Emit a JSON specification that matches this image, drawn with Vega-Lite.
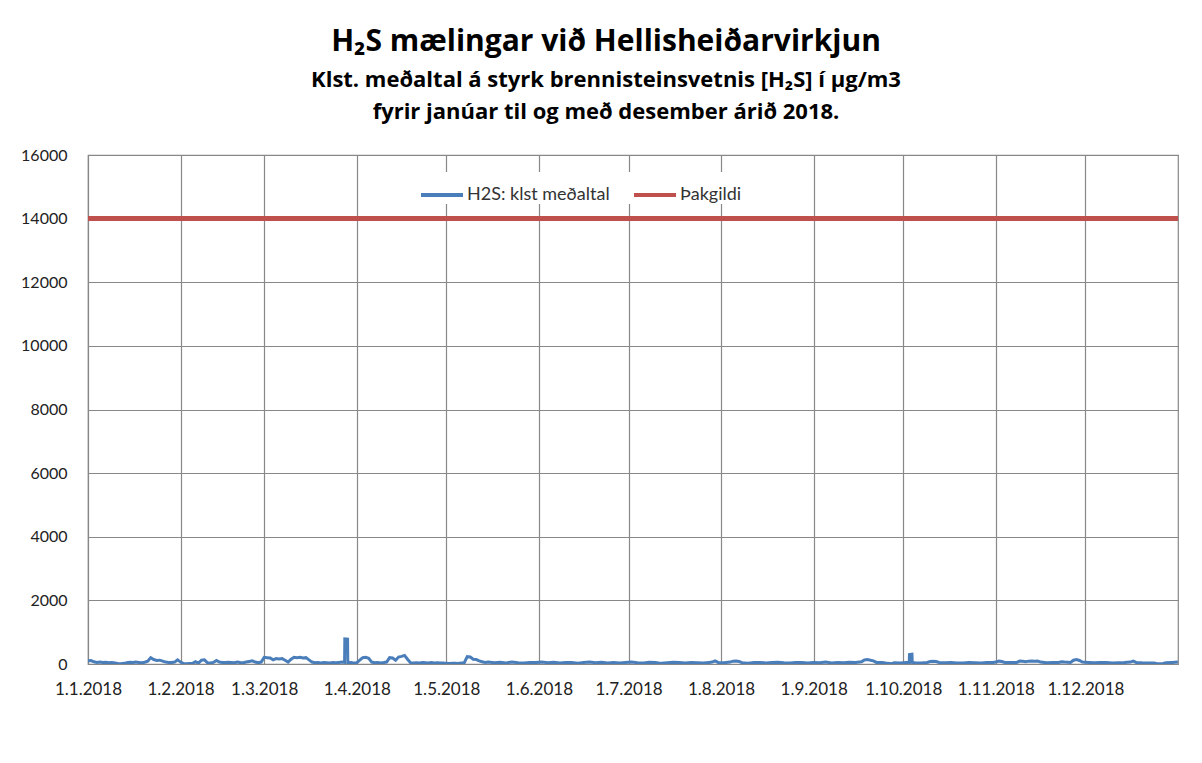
{
  "$schema": "https://vega.github.io/schema/vega-lite/v6.json",
  "width": 1090,
  "height": 509,
  "autosize": {"type": "none"},
  "padding": {"left": 88, "top": 155, "right": 24, "bottom": 99},
  "background": "white",
  "config": {
    "font": "Lato",
    "view": {"stroke": "#888888", "strokeWidth": 1.2},
    "axis": {"labelFont": "Lato", "labelColor": "#222222", "labelFontSize": 16, "gridColor": "#888888", "gridWidth": 1.2, "ticks": false, "domain": false, "title": null}
  },
  "title": {
    "text": "H₂S mælingar við Hellisheiðarvirkjun",
    "subtitle": ["Klst. meðaltal á styrk brennisteinsvetnis [H₂S] í µg/m3", "fyrir janúar til og með desember árið 2018."],
    "anchor": "middle",
    "frame": "group",
    "dx": -27,
    "offset": 24,
    "font": "Open Sans",
    "fontSize": 30,
    "fontWeight": "bold",
    "color": "#000000",
    "subtitleFont": "Open Sans",
    "subtitleFontSize": 22,
    "subtitleFontWeight": "bold",
    "subtitleColor": "#000000",
    "subtitlePadding": 13,
    "subtitleLineHeight": 32
  },
  "data": {"values": [
    {"d":"2018-01-01","v":100},{"d":"2018-01-02","v":110},{"d":"2018-01-03","v":70},{"d":"2018-01-04","v":50},{"d":"2018-01-05","v":60},{"d":"2018-01-06","v":45},{"d":"2018-01-07","v":55},{"d":"2018-01-08","v":40},{"d":"2018-01-09","v":50},{"d":"2018-01-10","v":35},{"d":"2018-01-11","v":15},{"d":"2018-01-12","v":10},{"d":"2018-01-13","v":20},{"d":"2018-01-14","v":40},{"d":"2018-01-15","v":55},{"d":"2018-01-16","v":45},{"d":"2018-01-17","v":60},{"d":"2018-01-18","v":50},{"d":"2018-01-19","v":40},{"d":"2018-01-20","v":55},{"d":"2018-01-21","v":90},{"d":"2018-01-22","v":200},{"d":"2018-01-23","v":140},{"d":"2018-01-24","v":110},{"d":"2018-01-25","v":120},{"d":"2018-01-26","v":90},{"d":"2018-01-27","v":60},{"d":"2018-01-28","v":50},{"d":"2018-01-29","v":45},{"d":"2018-01-30","v":60},{"d":"2018-01-31","v":130},
    {"d":"2018-02-01","v":60},{"d":"2018-02-02","v":10},{"d":"2018-02-03","v":5},{"d":"2018-02-04","v":15},{"d":"2018-02-05","v":20},{"d":"2018-02-06","v":70},{"d":"2018-02-07","v":30},{"d":"2018-02-08","v":120},{"d":"2018-02-09","v":130},{"d":"2018-02-10","v":40},{"d":"2018-02-11","v":30},{"d":"2018-02-12","v":50},{"d":"2018-02-13","v":110},{"d":"2018-02-14","v":60},{"d":"2018-02-15","v":50},{"d":"2018-02-16","v":45},{"d":"2018-02-17","v":55},{"d":"2018-02-18","v":50},{"d":"2018-02-19","v":40},{"d":"2018-02-20","v":60},{"d":"2018-02-21","v":45},{"d":"2018-02-22","v":40},{"d":"2018-02-23","v":60},{"d":"2018-02-24","v":80},{"d":"2018-02-25","v":100},{"d":"2018-02-26","v":60},{"d":"2018-02-27","v":40},{"d":"2018-02-28","v":60},
    {"d":"2018-03-01","v":210},{"d":"2018-03-02","v":200},{"d":"2018-03-03","v":190},{"d":"2018-03-04","v":130},{"d":"2018-03-05","v":170},{"d":"2018-03-06","v":160},{"d":"2018-03-07","v":170},{"d":"2018-03-08","v":120},{"d":"2018-03-09","v":60},{"d":"2018-03-10","v":150},{"d":"2018-03-11","v":210},{"d":"2018-03-12","v":200},{"d":"2018-03-13","v":210},{"d":"2018-03-14","v":190},{"d":"2018-03-15","v":200},{"d":"2018-03-16","v":130},{"d":"2018-03-17","v":60},{"d":"2018-03-18","v":40},{"d":"2018-03-19","v":50},{"d":"2018-03-20","v":35},{"d":"2018-03-21","v":45},{"d":"2018-03-22","v":40},{"d":"2018-03-23","v":30},{"d":"2018-03-24","v":45},{"d":"2018-03-25","v":40},{"d":"2018-03-26","v":50},{"d":"2018-03-27","v":60},{"d":"2018-03-27T22:00Z","v":50},{"d":"2018-03-28T00:00Z","v":790},{"d":"2018-03-28T22:00Z","v":780},{"d":"2018-03-29T00:00Z","v":40},{"d":"2018-03-30","v":45},{"d":"2018-03-31","v":35},
    {"d":"2018-04-01","v":40},{"d":"2018-04-02","v":120},{"d":"2018-04-03","v":200},{"d":"2018-04-04","v":210},{"d":"2018-04-05","v":180},{"d":"2018-04-06","v":60},{"d":"2018-04-07","v":40},{"d":"2018-04-08","v":50},{"d":"2018-04-09","v":35},{"d":"2018-04-10","v":45},{"d":"2018-04-11","v":60},{"d":"2018-04-12","v":200},{"d":"2018-04-13","v":190},{"d":"2018-04-14","v":120},{"d":"2018-04-15","v":220},{"d":"2018-04-16","v":240},{"d":"2018-04-17","v":270},{"d":"2018-04-18","v":150},{"d":"2018-04-19","v":40},{"d":"2018-04-20","v":35},{"d":"2018-04-21","v":40},{"d":"2018-04-22","v":30},{"d":"2018-04-23","v":45},{"d":"2018-04-24","v":40},{"d":"2018-04-25","v":30},{"d":"2018-04-26","v":50},{"d":"2018-04-27","v":35},{"d":"2018-04-28","v":40},{"d":"2018-04-29","v":30},{"d":"2018-04-30","v":35},
    {"d":"2018-05-01","v":20},{"d":"2018-05-02","v":15},{"d":"2018-05-03","v":25},{"d":"2018-05-04","v":20},{"d":"2018-05-05","v":15},{"d":"2018-05-06","v":30},{"d":"2018-05-07","v":40},{"d":"2018-05-08","v":230},{"d":"2018-05-09","v":220},{"d":"2018-05-10","v":150},{"d":"2018-05-11","v":140},{"d":"2018-05-12","v":100},{"d":"2018-05-13","v":70},{"d":"2018-05-14","v":50},{"d":"2018-05-15","v":60},{"d":"2018-05-17","v":40},{"d":"2018-05-19","v":55},{"d":"2018-05-21","v":35},{"d":"2018-05-23","v":60},{"d":"2018-05-25","v":40},{"d":"2018-05-27","v":30},{"d":"2018-05-29","v":50},{"d":"2018-05-31","v":45},
    {"d":"2018-06-02","v":60},{"d":"2018-06-04","v":40},{"d":"2018-06-06","v":55},{"d":"2018-06-08","v":35},{"d":"2018-06-10","v":50},{"d":"2018-06-12","v":45},{"d":"2018-06-14","v":25},{"d":"2018-06-16","v":50},{"d":"2018-06-18","v":60},{"d":"2018-06-20","v":40},{"d":"2018-06-22","v":55},{"d":"2018-06-24","v":35},{"d":"2018-06-26","v":45},{"d":"2018-06-28","v":30},{"d":"2018-06-30","v":50},
    {"d":"2018-07-02","v":60},{"d":"2018-07-04","v":40},{"d":"2018-07-06","v":30},{"d":"2018-07-08","v":55},{"d":"2018-07-10","v":45},{"d":"2018-07-12","v":20},{"d":"2018-07-14","v":40},{"d":"2018-07-16","v":55},{"d":"2018-07-18","v":45},{"d":"2018-07-20","v":35},{"d":"2018-07-22","v":50},{"d":"2018-07-24","v":40},{"d":"2018-07-26","v":30},{"d":"2018-07-28","v":50},{"d":"2018-07-29","v":60},{"d":"2018-07-30","v":100},{"d":"2018-07-31","v":50},
    {"d":"2018-08-02","v":40},{"d":"2018-08-04","v":60},{"d":"2018-08-05","v":90},{"d":"2018-08-06","v":95},{"d":"2018-08-07","v":80},{"d":"2018-08-08","v":40},{"d":"2018-08-10","v":25},{"d":"2018-08-12","v":45},{"d":"2018-08-14","v":50},{"d":"2018-08-16","v":35},{"d":"2018-08-18","v":45},{"d":"2018-08-20","v":55},{"d":"2018-08-22","v":40},{"d":"2018-08-24","v":30},{"d":"2018-08-26","v":50},{"d":"2018-08-28","v":45},{"d":"2018-08-30","v":35},
    {"d":"2018-09-01","v":50},{"d":"2018-09-03","v":40},{"d":"2018-09-05","v":60},{"d":"2018-09-07","v":35},{"d":"2018-09-09","v":45},{"d":"2018-09-11","v":40},{"d":"2018-09-13","v":55},{"d":"2018-09-15","v":50},{"d":"2018-09-17","v":70},{"d":"2018-09-18","v":130},{"d":"2018-09-19","v":140},{"d":"2018-09-20","v":120},{"d":"2018-09-21","v":100},{"d":"2018-09-22","v":50},{"d":"2018-09-24","v":45},{"d":"2018-09-26","v":20},{"d":"2018-09-27","v":10},{"d":"2018-09-28","v":40},{"d":"2018-09-30","v":30},
    {"d":"2018-10-01","v":40},{"d":"2018-10-02","v":50},{"d":"2018-10-03T00:00Z","v":50},{"d":"2018-10-03T02:00Z","v":300},{"d":"2018-10-03T22:00Z","v":310},{"d":"2018-10-04T00:00Z","v":50},{"d":"2018-10-05","v":40},{"d":"2018-10-07","v":35},{"d":"2018-10-09","v":50},{"d":"2018-10-10","v":80},{"d":"2018-10-11","v":85},{"d":"2018-10-12","v":80},{"d":"2018-10-13","v":50},{"d":"2018-10-15","v":40},{"d":"2018-10-17","v":45},{"d":"2018-10-19","v":35},{"d":"2018-10-21","v":30},{"d":"2018-10-23","v":45},{"d":"2018-10-25","v":40},{"d":"2018-10-27","v":35},{"d":"2018-10-29","v":50},{"d":"2018-10-31","v":45},
    {"d":"2018-11-01","v":60},{"d":"2018-11-02","v":90},{"d":"2018-11-03","v":80},{"d":"2018-11-04","v":50},{"d":"2018-11-06","v":45},{"d":"2018-11-08","v":50},{"d":"2018-11-09","v":90},{"d":"2018-11-10","v":85},{"d":"2018-11-11","v":70},{"d":"2018-11-12","v":90},{"d":"2018-11-13","v":95},{"d":"2018-11-14","v":85},{"d":"2018-11-15","v":90},{"d":"2018-11-16","v":60},{"d":"2018-11-18","v":40},{"d":"2018-11-20","v":50},{"d":"2018-11-22","v":45},{"d":"2018-11-23","v":70},{"d":"2018-11-24","v":60},{"d":"2018-11-26","v":50},{"d":"2018-11-27","v":120},{"d":"2018-11-28","v":140},{"d":"2018-11-29","v":110},{"d":"2018-11-30","v":60},
    {"d":"2018-12-02","v":50},{"d":"2018-12-04","v":40},{"d":"2018-12-06","v":45},{"d":"2018-12-08","v":50},{"d":"2018-12-10","v":35},{"d":"2018-12-12","v":40},{"d":"2018-12-14","v":45},{"d":"2018-12-16","v":60},{"d":"2018-12-17","v":90},{"d":"2018-12-18","v":50},{"d":"2018-12-20","v":40},{"d":"2018-12-22","v":35},{"d":"2018-12-24","v":30},{"d":"2018-12-25","v":10},{"d":"2018-12-26","v":5},{"d":"2018-12-27","v":15},{"d":"2018-12-28","v":40},{"d":"2018-12-30","v":50},{"d":"2018-12-31T23:00Z","v":60}
  ]},
  "layer": [
    {
      "mark": {"type": "line", "strokeWidth": 3, "clip": true},
      "encoding": {
        "x": {
          "field": "d", "type": "temporal",
          "scale": {"type": "utc", "domain": [{"year": 2018, "month": 1, "date": 1, "utc": true}, {"year": 2019, "month": 1, "date": 1, "utc": true}]},
          "axis": {
            "labelExpr": "utcFormat(datum.value, '%-d.%-m.%Y')", "labelPadding": 17, "labelFontSize": 17, "labelOverlap": false, "labelFlush": false,
            "values": [
              {"year": 2018, "month": 1, "date": 1, "utc": true},{"year": 2018, "month": 2, "date": 1, "utc": true},{"year": 2018, "month": 3, "date": 1, "utc": true},{"year": 2018, "month": 4, "date": 1, "utc": true},{"year": 2018, "month": 5, "date": 1, "utc": true},{"year": 2018, "month": 6, "date": 1, "utc": true},{"year": 2018, "month": 7, "date": 1, "utc": true},{"year": 2018, "month": 8, "date": 1, "utc": true},{"year": 2018, "month": 9, "date": 1, "utc": true},{"year": 2018, "month": 10, "date": 1, "utc": true},{"year": 2018, "month": 11, "date": 1, "utc": true},{"year": 2018, "month": 12, "date": 1, "utc": true}
            ]
          }
        },
        "y": {
          "field": "v", "type": "quantitative",
          "scale": {"domain": [0, 16000], "nice": false},
          "axis": {"values": [0, 2000, 4000, 6000, 8000, 10000, 12000, 14000, 16000], "format": "d", "labelPadding": 21}
        },
        "color": {
          "datum": "H2S: klst meðaltal",
          "scale": {"domain": ["H2S: klst meðaltal", "Þakgildi"], "range": ["#4A7EBB", "#C0504D"]},
          "legend": {
            "title": null, "orient": "none", "direction": "horizontal", "legendX": 331, "legendY": 17,
            "symbolType": "stroke", "symbolSize": 1764, "symbolStrokeWidth": 4, "labelOffset": 2, "columnPadding": 16,
            "labelFont": "Lato", "labelFontSize": 18, "labelColor": "#333333", "fillColor": "white", "padding": 0
          }
        }
      }
    },
    {
      "mark": {"type": "rule", "strokeWidth": 4},
      "encoding": {
        "y": {"datum": 14000},
        "color": {"datum": "Þakgildi"}
      }
    }
  ]
}
